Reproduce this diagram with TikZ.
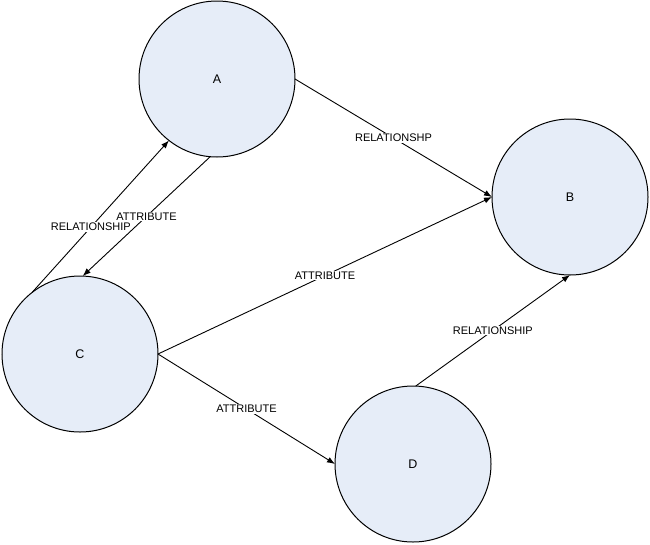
\documentclass[tikz,border=0pt]{standalone}
\usepackage{fontspec}
\setmainfont{Liberation Sans}
\usetikzlibrary{arrows.meta}
\definecolor{nodefill}{RGB}{230,237,248}
\tikzset{
  entity/.style={circle, draw=black, line width=1pt, fill=nodefill, minimum size=156pt, inner sep=0pt, outer sep=0pt, font=\fontsize{12.5}{14}\selectfont},
  conn/.style={draw=black, line width=0.9pt, -{Latex[length=8pt,width=6pt]}},
  lbl/.style={fill=white, inner sep=1pt, font=\fontsize{11}{13}\selectfont}
}
\begin{document}
\begin{tikzpicture}[x=1pt,y=-1pt]
\useasboundingbox (0,0) rectangle (650,544);
\fill[white] (0,0) rectangle (650,544);
\node[entity] (A) at (217,79) {A};
\node[entity] (B) at (570,197) {B};
\node[entity] (C) at (80,354) {C};
\node[entity] (D) at (413,464) {D};
\draw[conn] (A.0) -- node[lbl,pos=0.5] {RELATIONSHP} (B.180);
\draw[conn] (C.128) -- node[lbl,pos=0.43] {RELATIONSHIP} (A.232);
\draw[conn] (A.265) -- node[lbl,pos=0.5] {ATTRIBUTE} (C.88);
\draw[conn] (C.0) -- node[lbl,pos=0.5] {ATTRIBUTE} (B.180);
\draw[conn] (C.0) -- node[lbl,pos=0.5] {ATTRIBUTE} (D.180);
\draw[conn] (D.88) -- node[lbl,pos=0.5] {RELATIONSHIP} (B.270);
\end{tikzpicture}
\end{document}
